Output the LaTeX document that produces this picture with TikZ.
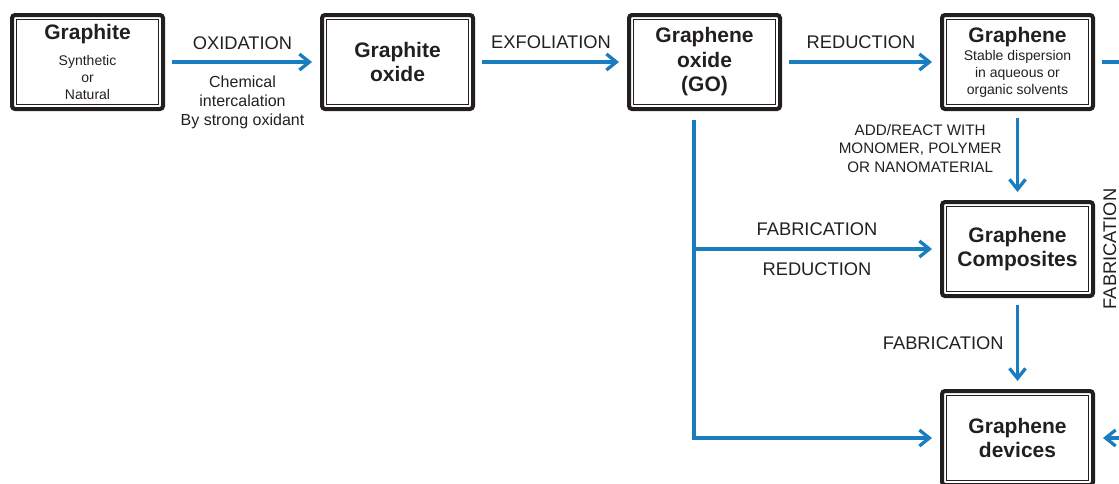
\documentclass[tikz,border=0pt]{standalone}
\usepackage{fontspec}
\setmainfont{Liberation Sans}
\usetikzlibrary{arrows.meta}

\definecolor{flowblue}{RGB}{26,125,192}
\definecolor{inkgray}{RGB}{35,31,32}
\newcommand{\stagetitle}{\fontsize{21}{24.5}\selectfont\bfseries}
\newcommand{\smalltext}{\fontsize{14}{17}\selectfont}

\begin{document}
\begin{tikzpicture}[x=1pt, y=-1pt,
	stage/.style={draw=inkgray, line width=4pt, rounded corners=3pt,
		minimum width=151pt, minimum height=94pt, inner sep=0pt,
		align=center, text=inkgray, font=\stagetitle,
		path picture={\draw [inkgray, line width=1.2pt, sharp corners]
			([shift={(4.5pt,4.5pt)}]path picture bounding box.south west) rectangle
			([shift={(-4.5pt,-4.5pt)}]path picture bounding box.north east);}},
	flow/.style={draw=flowblue, line width=3.3pt,
		-{Straight Barb[length=10pt, width=16pt]}, shorten >=8pt, shorten <=7pt},
	steptag/.style={text=inkgray, font=\fontsize{18.3}{22}\selectfont},
	remark/.style={text=inkgray, align=center}]

	\useasboundingbox (0,0) rectangle (1119,483);

	\node (graphite) at (87.5, 62) [stage, font=\smalltext] {{\stagetitle Graphite}\\[9pt]Synthetic\\or\\Natural};
	\node (goxide) at (397.5, 62) [stage] {Graphite\\oxide};
	\node (go) at (704.5, 62) [stage] {Graphene\\oxide\\(GO)};
	\node (graphene) at (1017.5, 62) [stage, font=\smalltext] {{\stagetitle Graphene}\\[1pt]Stable dispersion\\in aqueous or\\organic solvents};
	\node (composites) at (1017.5, 249) [stage] {Graphene\\Composites};
	\node (devices) at (1017.5, 438) [stage] {Graphene\\devices};

	\draw [flow] (graphite) -- (goxide) node [steptag, above=7pt, pos=0.5] {OXIDATION}
		node [remark, below=8.5pt, pos=0.5, font=\fontsize{16}{19}\selectfont] {Chemical\\intercalation\\By strong oxidant};
	\draw [flow] (goxide) -- (go) node [steptag, above=8pt, pos=0.5] {EXFOLIATION};
	\draw [flow] (go) -- (graphene) node [steptag, above=8pt, pos=0.5] {REDUCTION};

	\draw [flow] (graphene) -- (composites) node [remark, left=11pt, pos=0.42, font=\fontsize{15.2}{18.5}\selectfont] {ADD/REACT WITH\\MONOMER, POLYMER\\OR NANOMATERIAL};
	\draw [flow] (composites) -- (devices) node [steptag, left=9pt, pos=0.5] {FABRICATION};

	% stem below GO, feeding composites and devices
	\coordinate (gostem) at (694, 120);
	\draw [flow, shorten <=0pt] (gostem) |- (devices);
	\draw [flow, shorten <=0pt] (gostem |- composites) -- (composites)
		node [steptag, above=8pt, pos=0.5] {FABRICATION}
		node [steptag, below=9pt, pos=0.5] {REDUCTION};

	% loop on the right, mostly outside the frame
	\coordinate (rside) at (1127, 249);
	\draw [flow] (graphene) -| (rside) node [steptag, rotate=90, anchor=south, inner sep=9pt] {FABRICATION} |- (devices);
\end{tikzpicture}
\end{document}
